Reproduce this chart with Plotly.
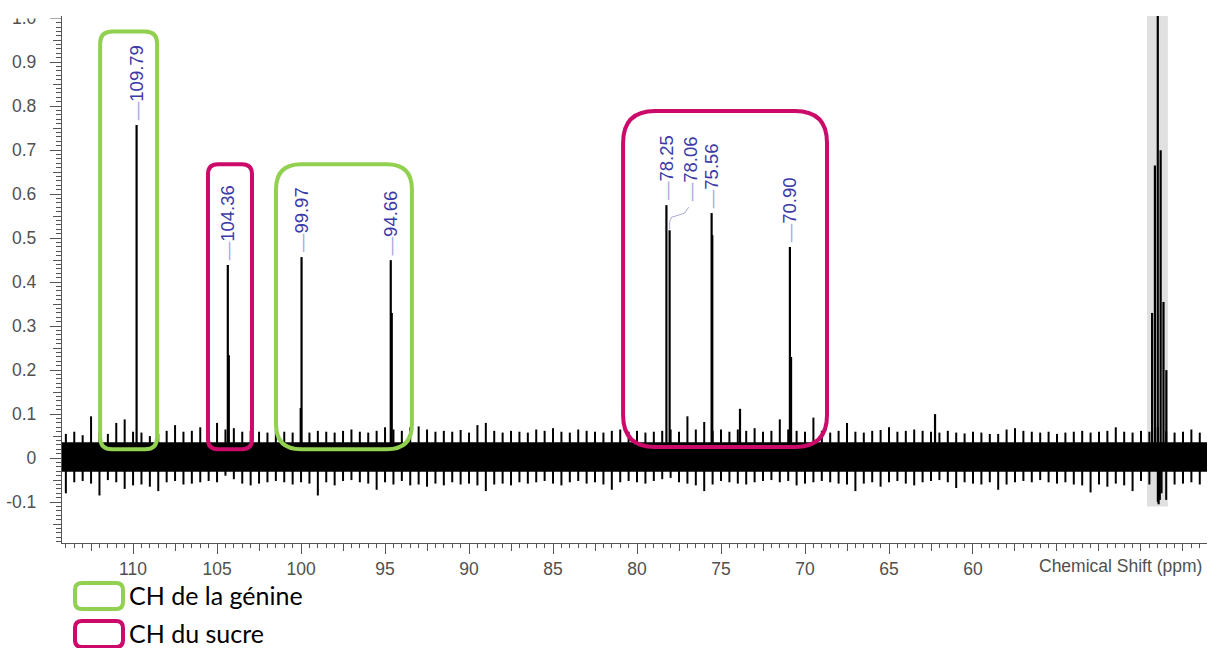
import numpy as np
import plotly.graph_objects as go

# ---------------- data ----------------
peak_ppm    = [109.79, 104.36, 99.97, 94.66, 78.25, 78.06, 75.56, 70.90]
peak_height = [0.757, 0.439, 0.457, 0.450, 0.575, 0.518, 0.557, 0.480]
peak_labels = ["109.79", "104.36", "99.97", "94.66", "78.25", "78.06", "75.56", "70.90"]

minor_ppm    = [104.30, 100.02, 94.60, 75.52, 70.83, 73.87, 62.26]
minor_height = [0.234, 0.114, 0.330, 0.507, 0.230, 0.112, 0.100]

solvent_ppm    = [49.34, 49.17, 49.00, 48.83, 48.66, 48.49, 48.95, 48.88, 48.78]
solvent_height = [0.330, 0.665, 1.05, 0.700, 0.355, 0.200, -0.105, -0.095, -0.080]
solvent_band   = [49.64, 48.40, -0.11]   # ppm left, ppm right, lower value

# baseline noise envelope, thousandths, every 0.5 ppm from 114.0 down to 46.0
noise_start, noise_step = 114.0, 0.5
noise_hi = [55, 60, 52, 95, 58, 55, 80, 88, 60, 58, 50, 55, 62, 75, 60, 62, 70, 62, 80, 65,
            68, 60, 62, 60, 58, 62, 60, 58,
            60, 58, 62, 60, 58, 62, 65, 60, 58, 62, 70, 65, 62, 70, 72, 65, 60, 62, 60, 64,
            58, 75, 80, 62, 58, 62, 60, 58,
            65, 62, 68, 60, 58, 65, 62, 60, 58, 62, 65, 60, 62, 58, 60, 62, 65, 60, 95, 65,
            82, 62, 65, 60, 65, 62, 68, 60,
            62, 88, 65, 62, 60, 92, 62, 58, 62, 80, 60, 58, 62, 64, 70, 60, 62, 65, 62, 60,
            58, 62, 58, 56, 60, 58, 55,
            55, 65, 68, 62, 60, 58, 60, 55, 58, 60, 62, 58, 60, 62, 70, 60, 58, 62, 60, 70,
            62, 58, 60, 65, 58, 55]
noise_lo = [-80, -55, -52, -58, -85, -50, -55, -70, -62, -60, -65, -75, -55, -52, -60, -58, -55, -52, -55, -40,
            -48, -58, -62, -58, -55, -52, -55, -60,
            -55, -58, -85, -55, -62, -52, -50, -55, -58, -72, -55, -60, -52, -62, -60, -65, -58, -62, -55, -60,
            -58, -62, -75, -60, -58, -62, -55, -58,
            -55, -52, -58, -62, -55, -52, -58, -55, -60, -72, -55, -52, -55, -58, -52, -48, -45, -55, -58, -62,
            -75, -60, -52, -55, -58, -60, -55, -52,
            -50, -55, -52, -62, -58, -55, -52, -55, -58, -60, -75, -58, -55, -65, -55, -52, -58, -62, -55, -52,
            -50, -55, -68, -55, -58, -60, -55,
            -72, -60, -55, -52, -55, -50, -55, -58, -55, -60, -62, -78, -60, -65, -58, -62, -75, -52, -60, -100,
            -95, -60, -58, -55, -60, -55]
core_hi, core_lo = 0.036, -0.031

# highlighted groups: (kind, ppm left, ppm right, value bottom, value top, corner radius px)
groups = [
    ("genine", 111.96, 108.57, 0.020, 0.970, 12),
    ("sucre", 105.54, 102.92, 0.020, 0.668, 10),
    ("genine", 101.49, 93.40, 0.020, 0.668, 25),
    ("sucre", 80.83, 68.69, 0.025, 0.789, 32),
]
legend_items = [("genine", "CH de la génine"), ("sucre", "CH du sucre")]
x_ticks = [110, 105, 100, 95, 90, 85, 80, 75, 70, 65, 60]
y_ticks = [-0.1, 0, 0.1, 0.2, 0.3, 0.4, 0.5, 0.6, 0.7, 0.8, 0.9, 1.0]
y_tick_text = ["-0.1", "0", "0.1", "0.2", "0.3", "0.4", "0.5", "0.6", "0.7", "0.8", "0.9", "1.0"]

# ---------------- layout constants ----------------
W, H = 1210, 648
ML, MR, MT, MB = 62, 3, 16, 105
PW, PH = W - ML - MR, H - MT - MB
X_RANGE = [114.23, 46.07]
Y_RANGE = [-0.193, 1.005]
GREEN, MAGENTA = "#92d050", "#cc0a6a"
COLORS = {"genine": GREEN, "sucre": MAGENTA}
AXC = "#555555"
TICKFONT = dict(family="Liberation Sans, Arial", size=17.5, color="#505050")

ppx = PW / (X_RANGE[0] - X_RANGE[1])
ppy = PH / (Y_RANGE[1] - Y_RANGE[0])


def d2px(x):
    return ML + (X_RANGE[0] - x) * ppx


def d2py(y):
    return MT + (Y_RANGE[1] - y) * ppy


def px2d(px):
    return X_RANGE[0] - (px - ML) / ppx


def py2d(py):
    return Y_RANGE[1] - (py - MT) / ppy


def px2paper(px):
    return (px - ML) / PW


def py2paper(py):
    return (MT + PH - py) / PH


def rr_path(L, T, R, B, r, fx, fy):
    pts = [("M", [(L + r, T)]), ("L", [(R - r, T)]), ("Q", [(R, T), (R, T + r)]),
           ("L", [(R, B - r)]), ("Q", [(R, B), (R - r, B)]), ("L", [(L + r, B)]),
           ("Q", [(L, B), (L, B - r)]), ("L", [(L, T + r)]), ("Q", [(L, T), (L + r, T)])]
    s = ""
    for cmd, ps in pts:
        s += cmd + " " + " ".join(f"{fx(a):.5f},{fy(b):.5f}" for a, b in ps) + " "
    return s + "Z"


fig = go.Figure()

# noise: solid core + vertical hairlines from the lower to the upper envelope value
nx = noise_start - noise_step * np.arange(len(noise_hi))
hi = np.array(noise_hi) / 1000.0
lo = np.array(noise_lo) / 1000.0
fig.add_trace(go.Scatter(x=[X_RANGE[0], X_RANGE[1], X_RANGE[1], X_RANGE[0]],
                         y=[core_hi, core_hi, core_lo, core_lo], fill="toself",
                         fillcolor="black", line=dict(width=0), mode="lines",
                         hoverinfo="skip", showlegend=False))
zx, zy = [], []
for a, h, l in zip(nx, hi, lo):
    zx += [a, a, None]
    zy += [l, h, None]
fig.add_trace(go.Scatter(x=zx, y=zy, mode="lines", line=dict(color="black", width=2),
                         hoverinfo="skip", showlegend=False))


def sticks(xs, ys):
    X, Y = [], []
    for a, b in zip(xs, ys):
        X += [a, a, None]
        Y += [0, b, None]
    return X, Y


for xs, ys in [(peak_ppm, peak_height), (minor_ppm, minor_height), (solvent_ppm, solvent_height)]:
    X, Y = sticks(xs, ys)
    fig.add_trace(go.Scatter(x=X, y=Y, mode="lines", line=dict(color="black", width=2.2),
                             hoverinfo="skip", showlegend=False))

# dummy traces for secondary (medium) tick axes
fig.add_trace(go.Scatter(x=[], y=[], xaxis="x2", yaxis="y", showlegend=False))
fig.add_trace(go.Scatter(x=[], y=[], xaxis="x", yaxis="y2", showlegend=False))

shapes = []
shapes.append(dict(type="rect", xref="x", yref="y", x0=solvent_band[0], x1=solvent_band[1],
                   y0=solvent_band[2], y1=Y_RANGE[1], fillcolor="#e0e0e0", line=dict(width=0),
                   layer="below"))
for kind, xl, xr, yb, yt, r in groups:
    path = rr_path(d2px(xl), d2py(yt), d2px(xr), d2py(yb), r, px2d, py2d)
    shapes.append(dict(type="path", xref="x", yref="y", path=path,
                       line=dict(color=COLORS[kind], width=4), layer="above"))
for i, (kind, _) in enumerate(legend_items):
    top = 583 + i * 38
    path = rr_path(75, top, 123, top + 26, 7, px2paper, py2paper)
    shapes.append(dict(type="path", xref="paper", yref="paper", path=path,
                       line=dict(color=COLORS[kind], width=4), layer="above"))
shapes.append(dict(type="path", xref="x", yref="y", xsizemode="pixel", ysizemode="pixel",
                   xanchor=peak_ppm[5], yanchor=peak_height[5],
                   path="M 0,1 L 0,8 L 2,13 L 15,17 L 19,23",
                   line=dict(color="#a8a8d8", width=1)))
shapes.append(dict(type="rect", xref="paper", yref="paper", x0=-0.06, x1=-0.001,
                   y0=py2paper(18.5), y1=py2paper(-5), fillcolor="white", line=dict(width=0),
                   layer="above"))

annotations = []
for i, (p, h, lab) in enumerate(zip(peak_ppm, peak_height, peak_labels)):
    xs, ys = (21, 27) if lab == "78.06" else (0, 3)
    annotations.append(dict(x=p, y=h, xref="x", yref="y", showarrow=False, textangle=-90,
                            xanchor="center", yanchor="bottom", xshift=xs, yshift=ys,
                            text=f"<span style='color:#a8a8d8'>—</span>{lab}",
                            font=dict(family="Liberation Sans, Arial", size=18.5, color="#3a3aa8")))
annotations.append(dict(x=px2d(1120), y=0, xref="x", yref="paper", yshift=-23, showarrow=False,
                        xanchor="center", yanchor="middle", text="Chemical Shift (ppm)",
                        font=TICKFONT))
for i, (kind, txt) in enumerate(legend_items):
    cy = 595 + i * 38
    annotations.append(dict(x=px2paper(127), y=py2paper(cy), xref="paper", yref="paper",
                            showarrow=False, xanchor="left", yanchor="middle", text=txt,
                            font=dict(family="Lato, Carlito, sans-serif", size=25, color="black")))

fig.update_layout(
    width=W, height=H, margin=dict(l=ML, r=MR, t=MT, b=MB, autoexpand=False),
    paper_bgcolor="white", plot_bgcolor="white", showlegend=False,
    shapes=shapes, annotations=annotations,
    xaxis=dict(range=X_RANGE, automargin=False, showgrid=False, zeroline=False, showline=True,
               linecolor=AXC, linewidth=1.3, ticks="outside", ticklen=10, tickcolor=AXC,
               tickvals=x_ticks, tickfont=TICKFONT,
               minor=dict(dtick=0.5, tick0=0, ticks="outside", ticklen=4,
                          tickcolor=AXC, showgrid=False)),
    xaxis2=dict(range=X_RANGE, automargin=False, overlaying="x", anchor="y", side="bottom",
                showgrid=False, zeroline=False, showline=False, ticks="outside", ticklen=7,
                tickcolor=AXC, dtick=2.5, tick0=0, showticklabels=False),
    yaxis=dict(range=Y_RANGE, automargin=False, showgrid=False, zeroline=False, showline=True,
               linecolor=AXC, linewidth=1.3, ticks="outside", ticklen=11, tickcolor=AXC,
               tickvals=y_ticks, ticktext=y_tick_text, tickfont=TICKFONT, ticklabelstandoff=10,
               minor=dict(dtick=0.01, tick0=0, ticks="outside", ticklen=5, tickcolor=AXC,
                          showgrid=False)),
    yaxis2=dict(range=Y_RANGE, automargin=False, overlaying="y", anchor="x", side="left",
                showgrid=False, zeroline=False, showline=False, ticks="outside", ticklen=8,
                tickcolor=AXC, dtick=0.05, tick0=0, showticklabels=False),
)

fig.write_html("out.html", config={"displayModeBar": False},
               post_script="document.body.style.margin='0';document.body.style.overflow='hidden';")
